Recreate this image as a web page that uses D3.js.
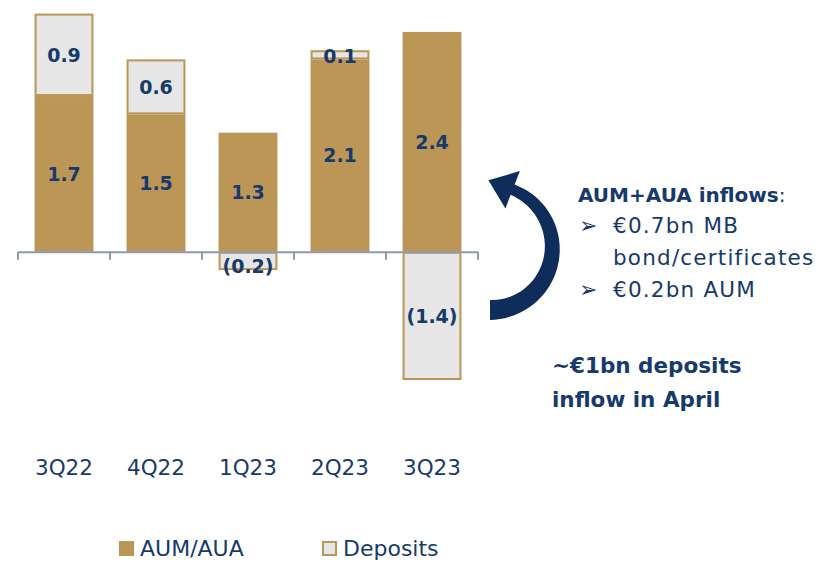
<!DOCTYPE html>
<html>
<head>
<meta charset="utf-8">
<script src="https://cdn.jsdelivr.net/npm/d3@7"></script>
<style>
  body { margin: 0; background: #fff; }
  svg { display: block; }
  text { font-family: "DejaVu Sans", sans-serif; }
</style>
</head>
<body>
<div id="chart"></div>
<script>
// data
const quarters = ["3Q22", "4Q22", "1Q23", "2Q23", "3Q23"];
const aumAua = [1.7, 1.5, 1.3, 2.1, 2.4];
const deposits = [0.9, 0.6, -0.2, 0.1, -1.4];
const seriesNames = ["AUM/AUA", "Deposits"];

const gold = "#bc9656";
const grey = "#e6e6e6";
const navy = "#163a6b";

const width = 839, height = 562;

const svg = d3.select("#chart").append("svg")
    .attr("width", width)
    .attr("height", height);

const x = d3.scaleBand()
    .domain(quarters)
    .range([18, 478])
    .paddingInner(0.36)
    .paddingOuter(0.18);

const y = d3.scaleLinear()
    .domain([-1.4, 2.6])
    .range([380, 13.6]);

// build stacked segments: AUM from zero, deposits on top if positive, below zero if negative
const segs = [];
quarters.forEach((q, i) => {
    segs.push({q, key: "aum", y0: 0, y1: aumAua[i], v: aumAua[i]});
    if (deposits[i] >= 0) {
        segs.push({q, key: "dep", y0: aumAua[i], y1: aumAua[i] + deposits[i], v: deposits[i]});
    } else {
        segs.push({q, key: "dep", y0: deposits[i], y1: 0, v: deposits[i]});
    }
});

svg.selectAll("rect.seg")
    .data(segs)
    .join("rect")
    .attr("class", "seg")
    .attr("x", d => x(d.q) + (d.key === "dep" ? 1 : 0))
    .attr("width", d => x.bandwidth() - (d.key === "dep" ? 2 : 0))
    .attr("y", d => y(d.y1) + (d.key === "dep" ? 1 : 0))
    .attr("height", d => Math.max(0, y(d.y0) - y(d.y1) - (d.key === "dep" ? 2 : 0)))
    .attr("fill", d => d.key === "aum" ? gold : grey)
    .attr("stroke", d => d.key === "dep" ? gold : "none")
    .attr("stroke-width", 2);

// axis at zero
const xAxis = d3.axisBottom(x).tickSize(0).tickFormat("");
const axisG = svg.append("g")
    .attr("transform", `translate(0,${y(0)})`)
    .call(xAxis);
axisG.select(".domain").attr("stroke", "#8e97b3").attr("stroke-width", 2);
// tick marks between categories
const tickXs = quarters.map((q, i) => x.range()[0] + i * x.step()).concat([x.range()[1]]);
axisG.selectAll("line.sep")
    .data(tickXs)
    .join("line")
    .attr("class", "sep")
    .attr("x1", d => d).attr("x2", d => d)
    .attr("y1", 0).attr("y2", 8)
    .attr("stroke", "#8e97b3")
    .attr("stroke-width", 2);

// category labels
svg.selectAll("text.cat")
    .data(quarters)
    .join("text")
    .attr("class", "cat")
    .attr("x", d => x(d) + x.bandwidth() / 2)
    .attr("y", 475)
    .attr("text-anchor", "middle")
    .attr("fill", navy)
    .attr("font-size", 21.5)
    .text(d => d);

// value labels
const fmt = v => v < 0 ? `(${Math.abs(v).toFixed(1)})` : v.toFixed(1);
svg.selectAll("text.val")
    .data(segs)
    .join("text")
    .attr("class", "val")
    .attr("x", d => x(d.q) + x.bandwidth() / 2)
    .attr("y", d => {
        let c = (y(d.y0) + y(d.y1)) / 2;
        if (d.key === "dep" && Math.abs(d.v) < 0.25) c = d.v < 0 ? y(d.y0) - 4 : y(d.y1) + 6;
        return c;
    })
    .attr("dy", "0.36em")
    .attr("text-anchor", "middle")
    .attr("fill", navy)
    .attr("font-size", 19)
    .attr("font-weight", "bold")
    .text(d => fmt(d.v));

// legend
const legend = svg.append("g").attr("transform", "translate(119,541)");
const legItems = legend.selectAll("g")
    .data(seriesNames)
    .join("g")
    .attr("transform", (d, i) => `translate(${i * 203},0)`);
legItems.append("rect")
    .attr("x", d => d === "Deposits" ? 1 : 0)
    .attr("y", d => d === "Deposits" ? 1 : 0)
    .attr("width", d => d === "Deposits" ? 13 : 15)
    .attr("height", d => d === "Deposits" ? 13 : 15)
    .attr("fill", d => d === "Deposits" ? grey : gold)
    .attr("stroke", d => d === "Deposits" ? gold : "none")
    .attr("stroke-width", 2);
legItems.append("text")
    .attr("x", 21)
    .attr("y", 15)
    .attr("fill", navy)
    .attr("font-size", 22)
    .text(d => d);

// curved arrow
const cx = 490, cy = 248;
const a0 = Math.PI / 2, a1 = -1.2;
const n = 40;
const outer = [], inner = [];
for (let k = 0; k <= n; k++) {
    const t = k / n;
    const a = a0 + (a1 - a0) * t;
    const ro = 72 - 4 * t, ri = 52 + 5 * t;
    outer.push([cx + ro * Math.cos(a), cy + ro * Math.sin(a)]);
    inner.push([cx + ri * Math.cos(a), cy + ri * Math.sin(a)]);
}
const am = (72 - 4 + 52 + 5) / 2;
const base = [cx + am * Math.cos(a1), cy + am * Math.sin(a1)];
const tang = [Math.sin(a1), -Math.cos(a1)];
const norm = [Math.cos(a1), Math.sin(a1)];
const headW = 20, headL = 26;
const head = [
    [base[0] + norm[0] * headW, base[1] + norm[1] * headW],
    [base[0] + tang[0] * headL, base[1] + tang[1] * headL],
    [base[0] - norm[0] * headW, base[1] - norm[1] * headW]
];
const pts = outer.concat([head[0], head[1], head[2]]).concat(inner.slice().reverse());
svg.append("path")
    .attr("d", d3.line()(pts) + "Z")
    .attr("fill", "#0f2d5a");

// side notes
const notes = svg.append("g").attr("fill", navy).attr("font-size", 21.5);
const t1 = notes.append("text").attr("x", 578).attr("y", 202).attr("font-size", 20);
t1.append("tspan").attr("font-weight", "bold").text("AUM+AUA inflows");
t1.append("tspan").text(":");
const bullets = [
    {b: true, s: "€0.7bn MB", y: 233},
    {b: false, s: "bond/certificates", y: 265},
    {b: true, s: "€0.2bn AUM", y: 297}
];
bullets.forEach(d => {
    if (d.b) notes.append("text").attr("x", 579).attr("y", d.y).attr("font-size", 22).text("➢");
    notes.append("text").attr("x", 613).attr("y", d.y).attr("letter-spacing", 1.2).text(d.s);
});
notes.append("text").attr("x", 552).attr("y", 373).attr("font-weight", "bold").text("~€1bn deposits");
notes.append("text").attr("x", 552).attr("y", 407).attr("font-weight", "bold").text("inflow in April");
</script>
</body>
</html>
